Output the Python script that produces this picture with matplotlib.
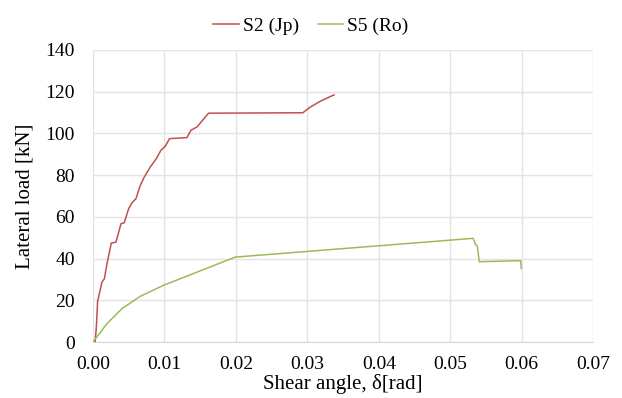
import matplotlib
matplotlib.use("Agg")
import matplotlib.pyplot as plt

plt.rcParams['font.family'] = ['Liberation Serif', 'DejaVu Serif']

# S2 (Jp) - shear angle [rad] and lateral load [kN]
s2_x = [0.0, 0.0003, 0.00047, 0.00065, 0.00089, 0.00126, 0.00159, 0.00196, 0.00256,
        0.00322, 0.00392, 0.00438, 0.00499, 0.00545, 0.00601, 0.00662, 0.00718,
        0.00802, 0.00886, 0.00951, 0.0101, 0.01072, 0.01315, 0.01371, 0.01455,
        0.01618, 0.02937, 0.0304, 0.0318, 0.03375]
s2_y = [0.0, 0.0, 7.2, 19.6, 23.2, 28.7, 30.3, 37.5, 47.4,
        47.9, 56.7, 57.2, 63.9, 66.7, 68.7, 75.1, 79.1,
        83.9, 87.9, 91.9, 93.8, 97.5, 98.0, 101.5, 103.1,
        109.7, 109.9, 112.6, 115.4, 118.5]

# S5 (Ro)
s5_x = [0.0, 0.00196, 0.00406, 0.00662, 0.00988, 0.0199, 0.0532, 0.0536, 0.0538,
        0.05407, 0.05986, 0.05995]
s5_y = [0.0, 8.8, 16.0, 21.9, 27.2, 40.7, 49.7, 46.5, 46.0,
        38.5, 39.0, 35.3]

fig = plt.figure(figsize=(6.22, 3.98), dpi=100)
ax = fig.add_axes([0.1495, 0.1407, 0.804, 0.7337])

ax.plot(s2_x, s2_y, color='#C0504D', linewidth=1.1, label='S2 (Jp)')
ax.plot(s5_x, s5_y, color='#9BBB59', linewidth=1.1, label='S5 (Ro)')

ax.set_xlim(0, 0.07)
ax.set_ylim(0, 140)
ax.set_xticks([i * 0.01 for i in range(8)])
ax.set_xticklabels(['%.2f' % (i * 0.01) for i in range(8)])
ax.set_yticks(range(0, 141, 20))

ax.grid(True, color='#E3E3E3', linewidth=1.0)
ax.set_axisbelow(True)
for side in ['top', 'right', 'left']:
    ax.spines[side].set_visible(False)
ax.spines['bottom'].set_color('#D9D9D9')
ax.tick_params(length=0, labelsize=14)
ax.tick_params(axis='x', pad=10)
ax.tick_params(axis='y', pad=13)

ax.set_xlabel('Shear angle, δ[rad]', fontsize=15, labelpad=1)
ax.set_ylabel('Lateral load [kN]', fontsize=15, labelpad=8)

fig.legend(loc='upper center', bbox_to_anchor=(0.5, 1.0), ncol=2, frameon=False,
           fontsize=14, handlelength=1.3, handletextpad=0.2, columnspacing=1.0)

fig.savefig('out.png', dpi=100)
